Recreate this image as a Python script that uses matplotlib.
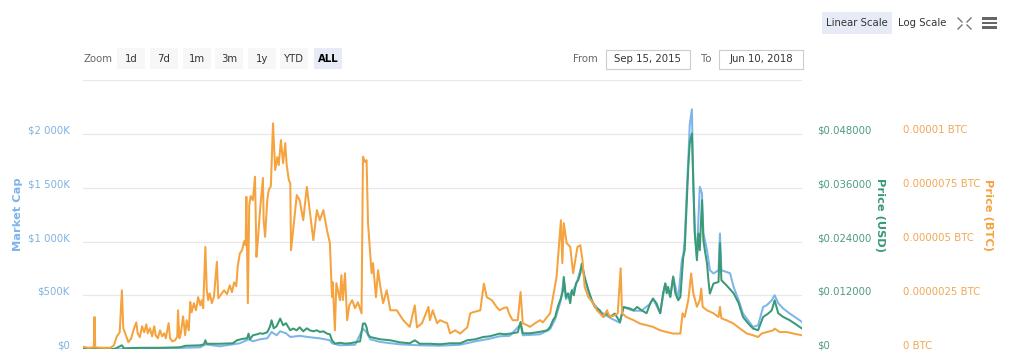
import matplotlib
matplotlib.use("Agg")
import matplotlib.pyplot as plt
import pandas as pd
from matplotlib.patches import Rectangle
from matplotlib.lines import Line2D
from matplotlib import transforms

# ---------------- data ----------------
start_date = "2015-09-15"
end_date = "2018-06-10"

# Price (BTC), in satoshi (1e-8 BTC); days since start_date
btc_days = [0, 7, 15, 16, 17, 26, 38, 43, 47, 51, 54, 56, 60, 63, 67, 71, 74, 76, 79, 82,
            85, 88, 90, 93, 96, 99, 101, 104, 107, 110, 113, 115, 119, 121, 124, 128, 131, 132, 134, 136,
            139, 142, 144, 147, 149, 151, 154, 157, 160, 163, 165, 167, 170, 172, 174, 176, 179, 182, 186, 188,
            192, 196, 200, 204, 207, 210, 213, 215, 218, 221, 224, 226, 227, 229, 231, 233, 236, 239, 241, 243,
            246, 250, 251, 253, 256, 258, 261, 264, 267, 270, 272, 275, 278, 281, 283, 286, 288, 289, 292, 297,
            301, 306, 311, 315, 320, 325, 329, 334, 339, 343, 346, 347, 350, 352, 357, 359, 361, 364, 367, 370,
            374, 378, 382, 387, 389, 392, 394, 396, 401, 403, 407, 410, 413, 417, 422, 427, 436, 445, 454, 461,
            464, 471, 480, 482, 486, 492, 496, 506, 510, 517, 524, 534, 538, 542, 552, 557, 561, 568, 575, 579,
            584, 589, 593, 597, 604, 608, 611, 617, 621, 628, 635, 639, 649, 653, 658, 662, 664, 666, 668, 672,
            677, 681, 684, 687, 691, 694, 697, 702, 709, 714, 718, 723, 728, 732, 739, 743, 747, 749, 755, 765,
            774, 783, 792, 802, 811, 820, 830, 833, 836, 841, 845, 848, 853, 857, 859, 861, 867, 876, 883, 885,
            887, 894, 904, 913, 922, 931, 938, 943, 950, 959, 961, 968, 978, 987, 999]
price_btc_sat = [12, 7, 9, 150, 9, 7, 7, 19, 60, 79, 274, 98, 60, 33, 51, 98, 125, 74, 56, 107,
                 79, 116, 74, 98, 60, 107, 65, 51, 88, 60, 74, 51, 121, 51, 37, 42, 60, 181, 51, 74,
                 153, 65, 135, 88, 220, 172, 214, 181, 242, 204, 228, 191, 475, 274, 228, 260, 214, 246, 406, 237,
                 256, 274, 256, 297, 265, 311, 293, 386, 446, 460, 502, 483, 708, 214, 669, 711, 692, 801, 429, 507,
                 646, 795, 599, 522, 692, 739, 757, 1049, 832, 892, 855, 971, 864, 957, 855, 785, 771, 460, 553, 716,
                 692, 599, 754, 646, 507, 646, 599, 646, 553, 493, 243, 311, 88, 307, 228, 344, 228, 353, 135, 204,
                 228, 191, 218, 167, 894, 869, 878, 586, 353, 400, 242, 367, 293, 214, 274, 181, 181, 135, 104, 204,
                 102, 121, 197, 135, 181, 121, 135, 121, 74, 88, 73, 102, 167, 172, 181, 305, 242, 228, 195, 181,
                 191, 195, 158, 135, 135, 266, 121, 112, 104, 121, 135, 125, 167, 243, 336, 507, 599, 400, 586, 493,
                 475, 353, 414, 475, 483, 414, 290, 243, 214, 181, 167, 150, 181, 150, 158, 167, 376, 167, 150, 135,
                 119, 112, 104, 88, 80, 73, 73, 167, 150, 228, 352, 260, 197, 228, 282, 197, 181, 167, 150, 197,
                 144, 135, 119, 96, 74, 65, 57, 73, 80, 88, 96, 80, 80, 73, 65]

# Price (USD)
usd_days = [0, 24, 44, 54, 57, 79, 107, 135, 142, 163, 168, 170, 172, 190, 208, 214, 222, 228, 230, 232,
            236, 242, 246, 250, 256, 260, 262, 265, 269, 274, 278, 282, 288, 292, 297, 301, 306, 311, 315, 320,
            325, 329, 334, 339, 343, 346, 350, 357, 364, 371, 378, 385, 389, 392, 394, 396, 399, 413, 427, 440,
            454, 461, 468, 482, 496, 510, 524, 534, 545, 556, 565, 579, 586, 593, 597, 604, 608, 611, 621, 631,
            639, 645, 649, 653, 656, 660, 664, 667, 668, 671, 674, 677, 679, 682, 685, 688, 691, 693, 695, 697,
            702, 707, 711, 718, 723, 728, 732, 739, 746, 751, 760, 765, 770, 776, 783, 788, 792, 797, 802, 806,
            809, 811, 813, 816, 820, 823, 827, 830, 832, 834, 836, 839, 841, 843, 846, 848, 850, 853, 855, 857,
            860, 862, 864, 867, 869, 871, 876, 883, 885, 887, 894, 904, 911, 917, 924, 931, 938, 945, 952, 957,
            961, 966, 973, 982, 989, 999]
price_usd = [0.00011, 0.00011, 0.00011, 0.00089, 0.00022, 0.00033, 0.00033, 0.00045, 0.00078, 0.00089,
             0.00112, 0.00201, 0.00123, 0.00123, 0.00134, 0.00201, 0.00234, 0.00245, 0.00350, 0.00223,
             0.00312, 0.00335, 0.00357, 0.00346, 0.00379, 0.00513, 0.00647, 0.00468, 0.00513, 0.00685,
             0.00535, 0.00580, 0.00424, 0.00462, 0.00424, 0.00491, 0.00401, 0.00468, 0.00424, 0.00401,
             0.00424, 0.00386, 0.00401, 0.00350, 0.00335, 0.00201, 0.00127, 0.00145, 0.00127, 0.00134,
             0.00156, 0.00178, 0.00573, 0.00573, 0.00491, 0.00335, 0.00274, 0.00223, 0.00201, 0.00156,
             0.00134, 0.00201, 0.00123, 0.00123, 0.00112, 0.00134, 0.00134, 0.00201, 0.00223, 0.00274,
             0.00290, 0.00350, 0.00335, 0.00350, 0.00357, 0.00379, 0.00609, 0.00357, 0.00357, 0.00379,
             0.00401, 0.00424, 0.00497, 0.00647, 0.00720, 0.00959, 0.01137, 0.01316, 0.01612, 0.01160,
             0.01249, 0.01026, 0.01316, 0.01204, 0.01472, 0.01539, 0.01695, 0.01911, 0.01762, 0.01612,
             0.01316, 0.01093, 0.00943, 0.00870, 0.00720, 0.00803, 0.00720, 0.00796, 0.00609, 0.00943,
             0.00908, 0.00870, 0.00943, 0.00870, 0.00803, 0.01019, 0.01131, 0.01019, 0.00803, 0.01249,
             0.01465, 0.01249, 0.01389, 0.01166, 0.01612, 0.01249, 0.01093, 0.01166, 0.01612, 0.02058,
             0.02208, 0.03323, 0.04065, 0.04587, 0.04810, 0.03702, 0.02587, 0.01985, 0.02580, 0.02208,
             0.03323, 0.02431, 0.02208, 0.01918, 0.01539, 0.01242, 0.01465, 0.01501, 0.02364, 0.01539,
             0.01427, 0.01249, 0.01026, 0.00720, 0.00580, 0.00462, 0.00424, 0.00720, 0.00796, 0.00870,
             0.01093, 0.00803, 0.00720, 0.00647, 0.00573, 0.00462]

# Market Cap, in thousands of USD
cap_days = [0, 51, 107, 163, 170, 190, 218, 230, 236, 246, 256, 262, 269, 274, 282, 288, 301, 315, 329, 343,
            346, 357, 378, 389, 394, 399, 413, 440, 468, 496, 524, 545, 565, 579, 593, 608, 611, 635, 649, 656,
            664, 668, 671, 679, 685, 693, 697, 707, 718, 732, 746, 751, 765, 776, 788, 792, 802, 809, 816, 820,
            827, 832, 834, 836, 839, 841, 843, 846, 848, 850, 853, 855, 857, 860, 862, 867, 871, 876, 883, 885,
            887, 894, 899, 904, 911, 917, 924, 931, 938, 945, 950, 957, 961, 966, 973, 982, 989, 999]
market_cap_k = [3, 3, 7, 19, 46, 28, 56, 93, 74, 93, 102, 161, 130, 167, 149, 114, 125, 112, 102, 84,
                56, 37, 42, 192, 158, 93, 68, 46, 37, 33, 42, 74, 98, 121, 125, 232, 130, 139, 186, 279,
                455, 651, 465, 530, 595, 781, 660, 446, 353, 293, 246, 390, 358, 358, 423, 469, 335, 613, 486, 678,
                465, 827, 874, 1013, 1478, 1757, 2082, 2228, 1543, 1106, 855, 1199, 1508, 1450, 1078, 920, 734, 704, 734, 1075,
                734, 718, 706, 579, 455, 332, 270, 207, 223, 393, 409, 455, 502, 428, 378, 332, 300, 254]

cap_ticks_k = [0, 500, 1000, 1500, 2000, 2500]
cap_tick_labels = ["$0", "$500K", "$1 000K", "$1 500K", "$2 000K", ""]
usd_ticks = [0, 0.012, 0.024, 0.036, 0.048, 0.060]
usd_tick_labels = ["$0", "$0.012000", "$0.024000", "$0.036000", "$0.048000", ""]
btc_ticks_sat = [0, 250, 500, 750, 1000, 1250]
btc_tick_labels = ["0 BTC", "0.0000025 BTC", "0.000005 BTC", "0.0000075 BTC", "0.00001 BTC", ""]

zoom_buttons = ["1d", "7d", "1m", "3m", "1y", "YTD", "ALL"]
selected_zoom = "ALL"

# ---------------- style ----------------
C_CAP = "#7cb5ec"
C_USD = "#3a9a74"
C_BTC = "#f5a33f"
C_USD_TXT = "#4c9c7e"
C_BTC_TXT = "#f2a654"
C_CAP_TXT = "#7fb2e0"
GRID = "#e8e8e8"
FONT = "DejaVu Sans"

W, H = 1024, 353
fig = plt.figure(figsize=(W / 100, H / 100), dpi=100)
fig.patch.set_facecolor("white")

def fx(x):
    return x / W

def fy(y):
    return 1 - y / H

plot_l, plot_r, plot_t, plot_b = 83, 802, 80, 349.3
ax = fig.add_axes([fx(plot_l), fy(plot_b), fx(plot_r) - fx(plot_l), fy(plot_t) - fy(plot_b)])
ax2 = ax.twinx()
ax3 = ax.twinx()

t0 = pd.Timestamp(start_date)
btc_x = t0 + pd.to_timedelta(btc_days, unit="D")
usd_x = t0 + pd.to_timedelta(usd_days, unit="D")
cap_x = t0 + pd.to_timedelta(cap_days, unit="D")

lw = 1.45
ax.plot(cap_x, [v * 1000 for v in market_cap_k], color=C_CAP, lw=lw, solid_joinstyle="round")
ax2.plot(usd_x, price_usd, color=C_USD, lw=lw, solid_joinstyle="round")
ax3.plot(btc_x, [v * 1e-8 for v in price_btc_sat], color=C_BTC, lw=lw, solid_joinstyle="round")

ax.set_xlim(t0, pd.Timestamp(end_date))
ax.set_ylim(0, cap_ticks_k[-1] * 1000)
ax2.set_ylim(0, usd_ticks[-1])
ax3.set_ylim(0, btc_ticks_sat[-1] * 1e-8)

for a in (ax, ax2, ax3):
    for s in a.spines.values():
        s.set_visible(False)
    a.set_xticks([])
    a.patch.set_visible(False)

ax.set_yticks([v * 1000 for v in cap_ticks_k])
ax.set_yticklabels(cap_tick_labels)
ax2.set_yticks(usd_ticks)
ax2.set_yticklabels(usd_tick_labels)
ax3.set_yticks([v * 1e-8 for v in btc_ticks_sat])
ax3.set_yticklabels(btc_tick_labels)

ax.yaxis.grid(True, color=GRID, lw=0.9)
ax.set_axisbelow(True)

shift = transforms.ScaledTranslation(0, 4.5 / 100, fig.dpi_scale_trans)
ax.tick_params(axis="y", length=0, pad=9.4, labelsize=7.3, labelcolor=C_CAP_TXT)
ax2.tick_params(axis="y", length=0, pad=10.6, labelsize=7.3, labelcolor=C_USD_TXT)
ax3.tick_params(axis="y", length=0, pad=72.5, labelsize=7.3, labelcolor=C_BTC_TXT)
for a in (ax, ax2, ax3):
    for lab in a.get_yticklabels():
        lab.set_transform(lab.get_transform() + shift)
        lab.set_fontfamily(FONT)

# axis titles
fig.text(fx(18), fy(214), "Market Cap", rotation=90, ha="center", va="center",
         color=C_CAP, fontsize=8.2, fontweight="bold", family=FONT)
fig.text(fx(880), fy(215), "Price (USD)", rotation=270, ha="center", va="center",
         color=C_USD, fontsize=8.2, fontweight="bold", family=FONT)
fig.text(fx(988), fy(215), "Price (BTC)", rotation=270, ha="center", va="center",
         color=C_BTC, fontsize=8.2, fontweight="bold", family=FONT)

# ---------------- toolbar / UI text ----------------
def rect(x0, y0, x1, y1, fc, ec="none", lw=0.8):
    fig.add_artist(Rectangle((fx(x0), fy(y1)), fx(x1) - fx(x0), fy(y0) - fy(y1),
                             transform=fig.transFigure, facecolor=fc, edgecolor=ec, lw=lw))

# scale buttons
rect(822, 12, 892, 33.5, "#e6ebf5")
fig.text(fx(857), fy(23), "Linear Scale", ha="center", va="center", fontsize=7.3, color="#333333", family=FONT)
fig.text(fx(922), fy(23), "Log Scale", ha="center", va="center", fontsize=7.3, color="#333333", family=FONT)

# fullscreen icon
ic = "#777777"
for (x0, y0, x1, y1) in [(958, 18, 962, 22), (971, 18, 967, 22), (958, 29, 962, 25), (971, 29, 967, 25)]:
    fig.add_artist(Line2D([fx(x0), fx(x1)], [fy(y0), fy(y1)], transform=fig.transFigure, color=ic, lw=1.0))
# hamburger
for yy in (18.5, 23, 27.5):
    rect(981.5, yy - 1.3, 997, yy + 1.3, "#666666")

# zoom row
fig.text(fx(83), fy(58.5), "Zoom", ha="left", va="center", fontsize=7.3, color="#666666", family=FONT)
btn_x0 = [117, 150, 183, 215, 248, 280, 314]
for x0, lab in zip(btn_x0, zoom_buttons):
    sel = lab == selected_zoom
    rect(x0, 48, x0 + 28, 69, "#e6ebf5" if sel else "#f7f7f7")
    fig.text(fx(x0 + 14), fy(58.5), lab, ha="center", va="center", fontsize=7.3,
             color="#000000" if sel else "#333333", fontweight="bold" if sel else "normal", family=FONT)

# from / to
fig.text(fx(585.5), fy(58.5), "From", ha="center", va="center", fontsize=7.3, color="#666666", family=FONT)
rect(606, 50, 689.5, 69, "white", ec="#cccccc")
fig.text(fx(647.8), fy(59), pd.Timestamp(start_date).strftime("%b %d, %Y"), ha="center", va="center",
         fontsize=7.3, color="#333333", family=FONT)
fig.text(fx(706), fy(58.5), "To", ha="center", va="center", fontsize=7.3, color="#666666", family=FONT)
rect(719, 50, 803, 69, "white", ec="#cccccc")
fig.text(fx(761), fy(59), pd.Timestamp(end_date).strftime("%b %d, %Y"), ha="center", va="center",
         fontsize=7.3, color="#333333", family=FONT)

fig.savefig("out.png", dpi=100, facecolor="white")
